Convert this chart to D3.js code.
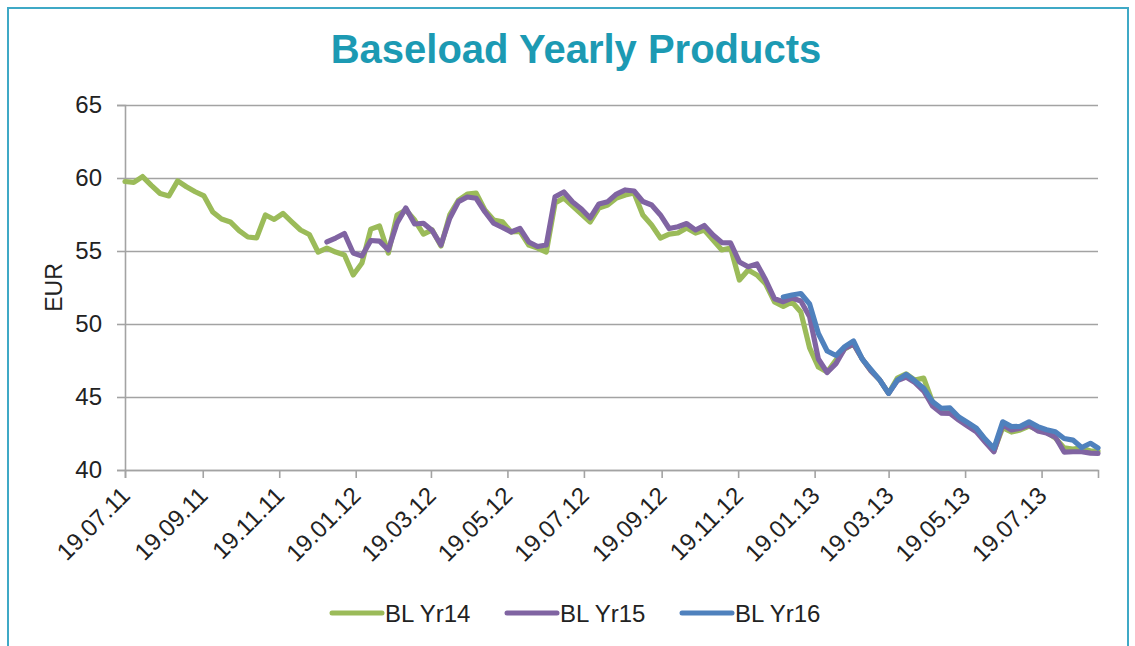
<!DOCTYPE html>
<html>
<head>
<meta charset="utf-8">
<script src="https://cdnjs.cloudflare.com/ajax/libs/d3/7.8.5/d3.min.js"></script>
<style>
  body { margin: 0; background: #fff; }
  svg { display: block; font-family: "Liberation Sans", Arial, sans-serif; }
</style>
</head>
<body>
<svg id="chart" width="1135" height="646"></svg>
<script>
// weekly readings
const dates = [
  "19.07.11","26.07.11","02.08.11","09.08.11","16.08.11","23.08.11","30.08.11","06.09.11","13.09.11","20.09.11",
  "27.09.11","04.10.11","11.10.11","18.10.11","25.10.11","01.11.11","08.11.11","15.11.11","22.11.11","29.11.11",
  "06.12.11","13.12.11","20.12.11","27.12.11","03.01.12","10.01.12","17.01.12","24.01.12","31.01.12","07.02.12",
  "14.02.12","21.02.12","28.02.12","06.03.12","13.03.12","20.03.12","27.03.12","03.04.12","10.04.12","17.04.12",
  "24.04.12","01.05.12","08.05.12","15.05.12","22.05.12","29.05.12","05.06.12","12.06.12","19.06.12","26.06.12",
  "03.07.12","10.07.12","17.07.12","24.07.12","31.07.12","07.08.12","14.08.12","21.08.12","28.08.12","04.09.12",
  "11.09.12","18.09.12","25.09.12","02.10.12","09.10.12","16.10.12","23.10.12","30.10.12","06.11.12","13.11.12",
  "20.11.12","27.11.12","04.12.12","11.12.12","18.12.12","25.12.12","01.01.13","08.01.13","15.01.13","22.01.13",
  "29.01.13","05.02.13","12.02.13","19.02.13","26.02.13","05.03.13","12.03.13","19.03.13","26.03.13","02.04.13",
  "09.04.13","16.04.13","23.04.13","30.04.13","07.05.13","14.05.13","21.05.13","28.05.13","04.06.13","11.06.13",
  "18.06.13","25.06.13","02.07.13","09.07.13","16.07.13","23.07.13","30.07.13","06.08.13","13.08.13","20.08.13",
  "27.08.13","02.09.13"
];

const yr14 = [
  59.76,59.7,60.1,59.5,58.94,58.77,59.8,59.4,59.06,58.77,
  57.67,57.19,56.99,56.4,55.96,55.9,57.47,57.16,57.57,57.0,
  56.44,56.13,54.93,55.2,54.93,54.73,53.36,54.18,56.5,56.71,
  54.86,57.47,57.81,57.12,56.16,56.44,55.34,57.47,58.49,58.9,
  58.97,57.81,57.12,57.0,56.3,56.34,55.41,55.2,54.93,58.29,
  58.63,58.08,57.53,56.99,57.95,58.15,58.63,58.84,58.97,57.47,
  56.78,55.89,56.16,56.23,56.58,56.23,56.44,55.75,55.07,55.21,
  53.01,53.7,53.36,52.74,51.51,51.2,51.51,50.82,48.36,47.05,
  46.71,47.53,48.29,48.63,47.6,46.78,46.16,45.25,46.3,46.58,
  46.16,46.3,44.66,44.11,44.11,43.56,43.15,42.81,42.05,41.3,
  42.9,42.6,42.74,43.01,42.74,42.6,42.19,41.51,41.44,41.51,
  41.3,41.3
];

const yr15 = [
  null,null,null,null,null,null,null,null,null,null,
  null,null,null,null,null,null,null,null,null,null,
  null,null,null,55.62,55.89,56.2,54.86,54.66,55.72,55.68,
  55.07,56.92,57.95,56.85,56.9,56.4,55.41,57.24,58.38,58.7,
  58.61,57.69,56.9,56.61,56.3,56.54,55.62,55.31,55.41,58.72,
  59.04,58.36,57.88,57.26,58.22,58.38,58.9,59.18,59.11,58.39,
  58.15,57.47,56.54,56.66,56.88,56.44,56.75,56.1,55.58,55.55,
  54.25,53.92,54.11,53.01,51.73,51.53,51.78,51.58,50.5,47.6,
  46.68,47.29,48.32,48.63,47.6,46.78,46.16,45.25,46.13,46.37,
  45.99,45.41,44.38,43.9,43.87,43.42,43.01,42.62,41.92,41.25,
  43.1,42.74,42.86,43.08,42.68,42.53,42.26,41.23,41.25,41.25,
  41.16,41.14
];

const yr16 = [
  null,null,null,null,null,null,null,null,null,null,
  null,null,null,null,null,null,null,null,null,null,
  null,null,null,null,null,null,null,null,null,null,
  null,null,null,null,null,null,null,null,null,null,
  null,null,null,null,null,null,null,null,null,null,
  null,null,null,null,null,null,null,null,null,null,
  null,null,null,null,null,null,null,null,null,null,
  null,null,null,null,null,51.85,51.99,52.09,51.37,49.35,
  48.15,47.84,48.45,48.84,47.6,46.87,46.16,45.25,46.16,46.55,
  46.1,45.6,44.68,44.23,44.25,43.63,43.25,42.86,42.12,41.49,
  43.3,42.97,42.99,43.3,42.97,42.76,42.62,42.16,42.05,41.54,
  41.83,41.51
];

const tickDates = ["19.07.11","19.09.11","19.11.11","19.01.12","19.03.12","19.05.12","19.07.12",
                   "19.09.12","19.11.12","19.01.13","19.03.13","19.05.13","19.07.13"];
const yTicks = [40, 45, 50, 55, 60, 65];
const seriesNames = ["BL Yr14", "BL Yr15", "BL Yr16"];
const seriesColors = ["#9bbb59", "#8064a2", "#4f81bd"];

const parse = d3.timeParse("%d.%m.%y");
const fmt = d3.timeFormat("%d.%m.%y");

const margin = {top: 105, right: 37, bottom: 176, left: 125};
const width = 1135, height = 646;

const svg = d3.select("#chart");

// frame
svg.append("rect")
  .attr("x", 8).attr("y", 8)
  .attr("width", 1120).attr("height", 700)
  .attr("fill", "none")
  .attr("stroke", "#3fa9c6")
  .attr("stroke-width", 2);

svg.append("text")
  .attr("x", 576).attr("y", 63)
  .attr("text-anchor", "middle")
  .attr("font-size", 40)
  .attr("font-weight", "bold")
  .attr("fill", "#1c9ab3")
  .text("Baseload Yearly Products");

const x = d3.scaleTime()
  .domain([parse(dates[0]), parse(dates[dates.length - 1])])
  .range([margin.left, width - margin.right]);

const y = d3.scaleLinear()
  .domain([40, 65])
  .range([height - margin.bottom, margin.top]);

// gridlines
svg.append("g")
  .attr("transform", `translate(${margin.left},0)`)
  .call(d3.axisLeft(y).tickValues(yTicks).tickSize(-(width - margin.right - margin.left)).tickFormat(""))
  .call(g => g.select(".domain").remove())
  .call(g => g.selectAll("line").attr("stroke", "#a3a3a3").attr("stroke-width", 1.6));

// y axis
svg.append("g")
  .attr("transform", `translate(${margin.left},0)`)
  .call(d3.axisLeft(y).tickValues(yTicks).tickSize(8).tickPadding(15))
  .call(g => g.select(".domain").attr("stroke", "#a3a3a3").attr("stroke-width", 1.6))
  .call(g => g.selectAll("line").attr("stroke", "#a3a3a3").attr("stroke-width", 1.6))
  .call(g => g.selectAll("text").attr("font-size", 24).attr("fill", "#222")
    .attr("font-family", "'Liberation Sans', Arial, sans-serif"));

svg.append("text")
  .attr("transform", `translate(62,${y(52.5)}) rotate(-90)`)
  .attr("text-anchor", "middle")
  .attr("font-size", 23)
  .attr("fill", "#222")
  .text("EUR");

// x axis
svg.append("g")
  .attr("transform", `translate(0,${height - margin.bottom})`)
  .call(d3.axisBottom(x).tickValues(tickDates.map(parse)).tickSize(8).tickFormat(fmt))
  .call(g => g.select(".domain").attr("stroke", "#a3a3a3").attr("stroke-width", 1.6))
  .call(g => g.selectAll("line").attr("stroke", "#a3a3a3").attr("stroke-width", 1.6))
  .call(g => g.selectAll("text")
    .attr("font-size", 24).attr("fill", "#222")
    .attr("font-family", "'Liberation Sans', Arial, sans-serif")
    .attr("text-anchor", "end")
    .attr("dy", 0).attr("y", 0)
    .attr("transform", "translate(6,27) rotate(-45)"));

// lines
const seriesData = [yr14, yr15, yr16];
const line = d3.line()
  .defined(d => d.v != null)
  .x(d => x(d.date))
  .y(d => y(d.v));

seriesData.forEach((vals, i) => {
  const pts = dates.map((dt, j) => ({date: parse(dt), v: vals[j]}));
  svg.append("path")
    .datum(pts)
    .attr("fill", "none")
    .attr("stroke", seriesColors[i])
    .attr("stroke-width", 5.2)
    .attr("stroke-linejoin", "round")
    .attr("stroke-linecap", "round")
    .attr("d", line);
});

// legend
const legend = svg.append("g").attr("transform", "translate(330,613)");
seriesNames.forEach((name, i) => {
  const g = legend.append("g").attr("transform", `translate(${i * 175},0)`);
  g.append("line")
    .attr("x1", 2).attr("x2", 52)
    .attr("stroke", seriesColors[i])
    .attr("stroke-width", 5)
    .attr("stroke-linecap", "round");
  g.append("text")
    .attr("x", 55).attr("y", 8.5)
    .attr("font-size", 24)
    .attr("fill", "#222")
    .text(name);
});
</script>
</body>
</html>
